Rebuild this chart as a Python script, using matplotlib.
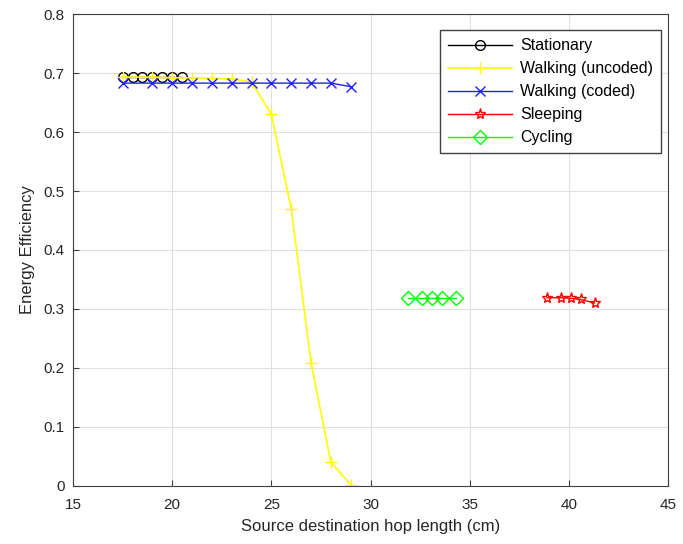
import matplotlib
matplotlib.use("Agg")
import matplotlib.pyplot as plt

plt.rcParams['font.family'] = ['Liberation Sans', 'DejaVu Sans']

stat_x = [17.5, 18.0, 18.5, 19.0, 19.5, 20.0, 20.5]
stat_y = [0.693, 0.693, 0.693, 0.693, 0.693, 0.693, 0.693]

wu_x = [17.5, 19, 20, 21, 22, 23, 24, 25, 26, 27, 28, 29]
wu_y = [0.693, 0.693, 0.692, 0.692, 0.691, 0.690, 0.685, 0.630, 0.470, 0.209, 0.040, 0.002]

wc_x = [17.5, 19, 20, 21, 22, 23, 24, 25, 26, 27, 28, 29]
wc_y = [0.683, 0.683, 0.683, 0.683, 0.683, 0.683, 0.683, 0.683, 0.683, 0.683, 0.683, 0.677]

sl_x = [38.9, 39.6, 40.1, 40.6, 41.3]
sl_y = [0.319, 0.319, 0.318, 0.316, 0.310]

cy_x = [31.9, 32.6, 33.1, 33.6, 34.3]
cy_y = [0.319, 0.319, 0.319, 0.319, 0.319]

fig = plt.figure(figsize=(6.83, 5.44), dpi=100)
ax = fig.add_axes([0.107, 0.107, 0.871, 0.867])

ax.plot(stat_x, stat_y, color='black', marker='o', mfc='none', ms=7, lw=1, label='Stationary')
ax.plot(wu_x, wu_y, color='#ffff00', marker='+', ms=9, lw=1.2, label='Walking (uncoded)')
ax.plot(wc_x, wc_y, color='#2020ff', marker='x', ms=7, lw=1, label='Walking (coded)')
ax.plot(sl_x, sl_y, color='#ff0000', marker='*', mfc='none', ms=8, lw=1, label='Sleeping')
ax.plot(cy_x, cy_y, color='#00ff00', marker='D', mfc='none', ms=7, lw=1, label='Cycling')

ax.set_xlim(15, 45)
ax.set_ylim(0, 0.8)
ax.set_xticks([15, 20, 25, 30, 35, 40, 45])
ax.set_yticks([0, 0.1, 0.2, 0.3, 0.4, 0.5, 0.6, 0.7, 0.8])
ax.set_yticklabels(['0', '0.1', '0.2', '0.3', '0.4', '0.5', '0.6', '0.7', '0.8'])
ax.grid(True, color='#e0e0e0', lw=0.8)
ax.set_axisbelow(True)
for s in ax.spines.values():
    s.set_color('#404040')
ax.tick_params(direction='in', colors='#404040', labelsize=11, labelcolor='#262626', length=4)
ax.tick_params(axis='x', pad=9)
ax.tick_params(axis='y', pad=6)
ax.set_xlabel('Source destination hop length (cm)', fontsize=12, color='#262626', labelpad=5)
ax.set_ylabel('Energy Efficiency', fontsize=12, color='#262626', labelpad=6)

leg = ax.legend(loc='upper right', bbox_to_anchor=(0.988, 0.966), fontsize=11.5,
                fancybox=False, framealpha=1, edgecolor='#404040', borderpad=0.5,
                handlelength=4.0, handletextpad=0.5, labelspacing=0.5, borderaxespad=0)
leg.get_frame().set_linewidth(1)

fig.savefig('out.png', dpi=100)
